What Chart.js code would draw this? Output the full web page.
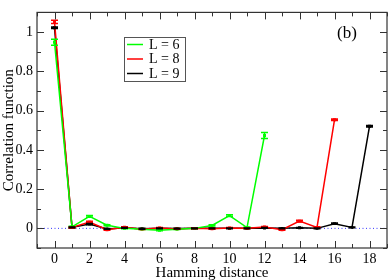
<!DOCTYPE html>
<html>
<head>
<meta charset="utf-8">
<script src="https://cdn.jsdelivr.net/npm/chart.js@4.4.1/dist/chart.umd.min.js"></script>
<style>
  html, body { margin: 0; padding: 0; background: #fff; }
  #wrap { width: 390px; height: 280px; position: relative; }
</style>
</head>
<body>
<div id="wrap"><canvas id="c"></canvas></div>
<script>
/* Correlation function vs Hamming distance, panel (b) */
var distance = [0, 1, 2, 3, 4, 5, 6, 7, 8, 9, 10, 11, 12, 13, 14, 15, 16, 17, 18];

var corrL6 = [0.948, 0.008, 0.061, 0.016, 0.0, -0.004, -0.01, -0.004, 0.0, 0.015, 0.065, 0.004, 0.473];
var errL6  = [0.015, 0.003, 0.004, 0.003, 0.002, 0.002, 0.002, 0.002, 0.002, 0.003, 0.004, 0.003, 0.015];

var corrL8 = [1.052, 0.004, 0.032, -0.007, 0.006, -0.004, 0.002, -0.003, 0.0, -0.002, 0.002, 0.0, 0.007, -0.007, 0.037, 0.005, 0.553];
var errL8  = [0.008, 0.003, 0.004, 0.003, 0.002, 0.002, 0.002, 0.002, 0.002, 0.002, 0.002, 0.002, 0.003, 0.003, 0.004, 0.003, 0.004];

var corrL9 = [1.022, 0.005, 0.022, -0.003, 0.003, -0.002, 0.0, -0.001, 0.0, 0.0, 0.0, 0.0, 0.002, 0.0, 0.003, 0.0, 0.024, 0.005, 0.52];
var errL9  = [0.004, 0.002, 0.003, 0.002, 0.002, 0.002, 0.002, 0.002, 0.002, 0.002, 0.002, 0.002, 0.002, 0.002, 0.002, 0.002, 0.003, 0.002, 0.004];

var seriesNames = ['L = 6', 'L = 8', 'L = 9'];
var seriesColors = ['#00ff00', '#ff0000', '#000000'];

var xTickLabels = [0, 2, 4, 6, 8, 10, 12, 14, 16, 18];
var yTickLabels = [0, 0.2, 0.4, 0.6, 0.8, 1];

var SERIF = '"Liberation Serif", "DejaVu Serif", serif';

function pts(vals, errs) {
  return vals.map(function (v, i) { return { x: distance[i], y: v, e: errs[i] }; });
}

function isLabel(list, v) {
  return list.some(function (t) { return Math.abs(t - v) < 1e-6; });
}

/* frame, inward ticks, error bars, legend box, panel tag */
var gracePlugin = {
  id: 'grace',
  afterDatasetsDraw: function (chart) {
    var ctx = chart.ctx, a = chart.chartArea;
    var xs = chart.scales.x, ys = chart.scales.y;
    ctx.save();

    // error bars
    chart.data.datasets.forEach(function (ds) {
      if (!ds.errBars) return;
      ctx.strokeStyle = ds.borderColor;
      ctx.lineWidth = 1.5;
      ds.data.forEach(function (p) {
        var px = xs.getPixelForValue(p.x);
        var top = ys.getPixelForValue(p.y + p.e);
        var bot = ys.getPixelForValue(p.y - p.e);
        ctx.beginPath();
        ctx.moveTo(px, top); ctx.lineTo(px, bot);
        ctx.moveTo(px - 3.5, top); ctx.lineTo(px + 3.5, top);
        ctx.moveTo(px - 3.5, bot); ctx.lineTo(px + 3.5, bot);
        ctx.stroke();
      });
    });

    // frame
    ctx.strokeStyle = '#333';
    ctx.lineWidth = 1.2;
    ctx.strokeRect(a.left, a.top, a.right - a.left, a.bottom - a.top);

    // ticks
    ctx.lineWidth = 1;
    var v, px, len;
    for (v = -1; v <= 19; v++) {
      px = Math.round(xs.getPixelForValue(v)) + 0.5;
      len = (v % 2 === 0) ? 7 : 4;
      ctx.beginPath();
      ctx.moveTo(px, a.bottom); ctx.lineTo(px, a.bottom - len);
      ctx.moveTo(px, a.top); ctx.lineTo(px, a.top + len);
      ctx.stroke();
    }
    for (var k = -1; k <= 11; k++) {
      v = k / 10;
      var py = Math.round(ys.getPixelForValue(v)) + 0.5;
      len = (k % 2 === 0) ? 7 : 4;
      ctx.beginPath();
      ctx.moveTo(a.left, py); ctx.lineTo(a.left + len, py);
      ctx.moveTo(a.right, py); ctx.lineTo(a.right - len, py);
      ctx.stroke();
    }

    // legend box
    ctx.fillStyle = '#fff';
    ctx.fillRect(124, 37, 62, 44);
    ctx.strokeStyle = '#555';
    ctx.lineWidth = 1;
    ctx.strokeRect(124.5, 37.5, 61, 44);
    ctx.font = '14px ' + SERIF;
    ctx.textBaseline = 'middle';
    seriesNames.forEach(function (n, i) {
      var ly = 44.5 + i * 14.5;
      ctx.strokeStyle = seriesColors[i];
      ctx.lineWidth = 1.5;
      ctx.beginPath(); ctx.moveTo(127, ly); ctx.lineTo(143, ly); ctx.stroke();
      ctx.fillStyle = '#000';
      ctx.fillText(n, 149, ly + 0.5);
    });

    // panel tag
    ctx.font = '17px ' + SERIF;
    ctx.textAlign = 'center';
    ctx.fillText('(b)', 347, 34);
    ctx.restore();
  }
};

var lineDs = function (i, vals, errs) {
  return {
    label: seriesNames[i],
    data: pts(vals, errs),
    borderColor: seriesColors[i],
    backgroundColor: seriesColors[i],
    borderWidth: 1.5,
    pointStyle: 'rect',
    pointRadius: 1,
    pointHoverRadius: 1,
    tension: 0,
    errBars: true,
  };
};

new Chart(document.getElementById('c').getContext('2d'), {
  type: 'line',
  data: {
    datasets: [
      {
        label: 'zero',
        data: [{ x: -1, y: 0 }, { x: 19, y: 0 }],
        borderColor: '#3333ff',
        borderWidth: 1,
        borderDash: [1, 2.5],
        pointRadius: 0,
        order: 10,
      },
      lineDs(0, corrL6, errL6),
      lineDs(1, corrL8, errL8),
      lineDs(2, corrL9, errL9),
    ],
  },
  options: {
    responsive: true, maintainAspectRatio: false, animation: false,
    layout: { padding: { top: 2, right: 2, left: 0, bottom: 0 } },
    plugins: { legend: { display: false }, tooltip: { enabled: false } },
    scales: {
      x: {
        type: 'linear', min: -1, max: 19,
        grid: { display: false, drawTicks: false, tickLength: 0 },
        border: { display: false },
        ticks: {
          stepSize: 1, padding: 3, color: '#000', maxRotation: 0, autoSkip: false,
          font: { family: SERIF, size: 14 },
          callback: function (v) { return isLabel(xTickLabels, v) ? String(v) : ''; },
        },
        title: { display: true, text: 'Hamming distance', color: '#000', padding: { top: 0, bottom: -2 }, font: { family: SERIF, size: 15 } },
        afterFit: function (s) { s.height = 32; },
      },
      y: {
        min: -0.1, max: 1.1,
        grid: { display: false, drawTicks: false, tickLength: 0 },
        border: { display: false },
        ticks: {
          stepSize: 0.1, padding: 4, color: '#000', autoSkip: false,
          font: { family: SERIF, size: 14 },
          callback: function (v) {
            var r = Math.round(v * 10) / 10;
            return isLabel(yTickLabels, r) ? String(r) : '';
          },
        },
        title: { display: true, text: 'Correlation function', color: '#000', padding: { top: 0, bottom: 0 }, font: { family: SERIF, size: 15 } },
        afterFit: function (s) { s.width = 37; },
      },
    },
  },
  plugins: [gracePlugin],
});
</script>
</body>
</html>
